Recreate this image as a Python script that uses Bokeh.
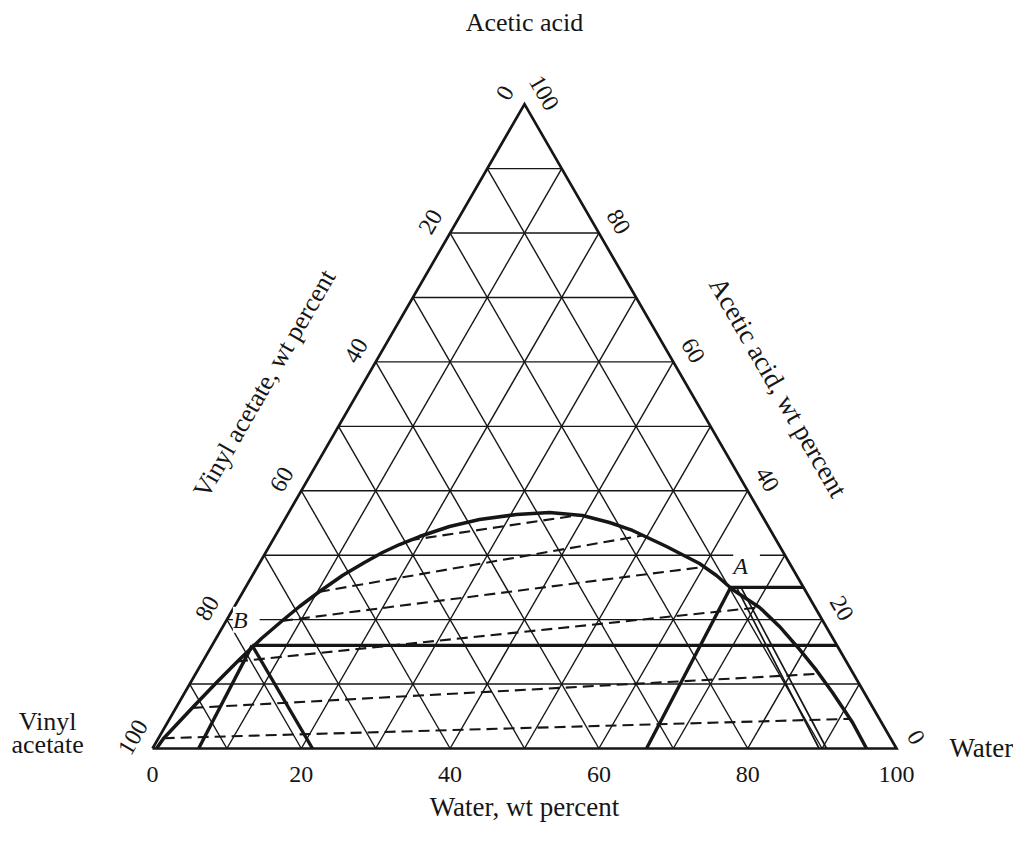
import numpy as np
from bokeh.plotting import figure
from bokeh.models import Range1d, Label
from bokeh.embed import file_html
from bokeh.resources import INLINE
from bokeh.core.properties import value

# ---------------- data (weight percent: water, acetic acid) ----------------
tick_values = [0, 20, 40, 60, 80, 100]

binodal_water = [0.54, 0.70, 1.53, 2.31, 3.54, 4.78, 6.11, 7.54, 8.74, 10.27, 12.11,
                 14.06, 15.70, 17.37, 19.44, 22.69, 26.18, 30.76, 35.04, 39.72, 43.88,
                 47.60, 53.41, 59.16, 62.38, 65.62, 70.65, 74.80, 79.28, 83.20, 87.05,
                 92.07, 95.97]
binodal_acid = [0.0, 1.55, 4.19, 6.67, 10.40, 13.81, 17.07, 19.87, 22.04, 24.37, 26.85,
                28.87, 30.42, 31.66, 32.90, 34.46, 35.54, 36.32, 36.63, 36.16, 35.08,
                33.84, 31.35, 28.71, 26.85, 24.68, 21.89, 18.94, 15.37, 12.11, 8.69,
                4.04, 0.0]

tie_water_left = [18.3, 10.2, 7.5, 4.6, 2.2, 0.7]
tie_acid_left = [32.3, 24.3, 19.8, 13.5, 6.3, 1.6]
tie_water_right = [39.1, 49.5, 60.1, 70.6, 83.9, 91.4]
tie_acid_right = [36.2, 33.1, 28.2, 21.9, 11.6, 4.6]

# thick construction lines (start -> end)
thick_water_start = [65.2, 5.4, 5.4, 5.4, 65.2]
thick_acid_start = [25.0, 16.0, 16.0, 16.0, 25.0]
thick_water_end = [75.0, 84.0, 6.2, 21.5, 66.4]
thick_acid_end = [25.0, 16.0, 0.0, 0.0, 0.0]

# thin double line
double_water_start = [66.0, 66.6]
double_acid_start = [25.0, 25.0]
double_water_end = [89.6, 90.6]
double_acid_end = [0.0, 0.0]

point_A = (65.7, 28.3)
point_B = (2.6, 20.0)

# ---------------- helpers ----------------
S3 = np.sqrt(3) / 2


def cart(w, a):
    w = np.asarray(w, float)
    a = np.asarray(a, float)
    return w + a / 2, a * S3


W_PX, H_PX = 1013, 826
SC = 7.44
ORG = 1.0
x0 = -(153 - ORG) / SC
x1 = x0 + W_PX / SC
y1 = (749 - ORG) / SC
y0 = y1 - H_PX / SC

p = figure(width=W_PX, height=H_PX, x_range=Range1d(x0, x1), y_range=Range1d(y0, y1),
           output_backend="svg", toolbar_location=None, min_border=0)
p.axis.visible = False
p.grid.visible = False
p.outline_line_color = None
p.background_fill_color = "white"

INK = "#161616"
FONT = value("Liberation Serif")

# grid lines every 10 %
gx, gy = [], []
for k in range(10, 100, 10):
    xs, ys = cart([0, 100 - k], [k, k]); gx.append(list(xs)); gy.append(list(ys))
    xs, ys = cart([k, k], [0, 100 - k]); gx.append(list(xs)); gy.append(list(ys))
    xs, ys = cart([100 - k, 0], [0, 100 - k]); gx.append(list(xs)); gy.append(list(ys))
p.multi_line(gx, gy, line_color=INK, line_width=1.4)

# tie lines
tx, ty = [], []
for wl, al, wr, ar in zip(tie_water_left, tie_acid_left, tie_water_right, tie_acid_right):
    xs, ys = cart([wl, wr], [al, ar]); tx.append(list(xs)); ty.append(list(ys))
p.multi_line(tx, ty, line_color=INK, line_width=2.1, line_dash="11 6")

# double thin line
dx, dy = [], []
for ws, as_, we, ae in zip(double_water_start, double_acid_start, double_water_end, double_acid_end):
    xs, ys = cart([ws, we], [as_, ae]); dx.append(list(xs)); dy.append(list(ys))
p.multi_line(dx, dy, line_color=INK, line_width=1.7)

# thick construction lines
kx, ky = [], []
for ws, as_, we, ae in zip(thick_water_start, thick_acid_start, thick_water_end, thick_acid_end):
    xs, ys = cart([ws, we], [as_, ae]); kx.append(list(xs)); ky.append(list(ys))
p.multi_line(kx, ky, line_color=INK, line_width=3.4)

# binodal curve
bx, by = cart(binodal_water, binodal_acid)
p.line(bx, by, line_color=INK, line_width=3.5, line_join="round")

# triangle outline
ox, oy = cart([0, 100, 0, 0], [0, 0, 100, 0])
p.line(ox, oy, line_color=INK, line_width=2.7, line_join="miter")

# ---------------- tick labels ----------------
OFF = 3.0
bx_t, by_t = cart(tick_values, [0] * len(tick_values))
p.text(bx_t, by_t - 3.5, text=[str(v) for v in tick_values], text_font=FONT,
       text_font_size="24px", text_align="center", text_baseline="middle", text_color=INK)
lx, ly = cart([0] * 6, [100 - v for v in tick_values])
p.text(lx - OFF * S3, ly + OFF * 0.5, text=[str(v) for v in tick_values], angle=np.pi / 3,
       text_font=FONT, text_font_size="24px", text_align="center", text_baseline="middle",
       text_color=INK)
rx, ry = cart([100 - v for v in tick_values], tick_values)
p.text(rx + OFF * S3, ry + OFF * 0.5, text=[str(v) for v in tick_values], angle=-np.pi / 3,
       text_font=FONT, text_font_size="24px", text_align="center", text_baseline="middle",
       text_color=INK)

# ---------------- titles ----------------
apx, apy = cart([0], [100])
p.text(apx, apy + 11.0, text=["Acetic acid"], text_font=FONT, text_font_size="26px",
       text_align="center", text_baseline="middle", text_color=INK)
p.text([50], [-7.9], text=["Water, wt percent"], text_font=FONT, text_font_size="27px",
       text_align="center", text_baseline="middle", text_color=INK)
p.text([-14.1, -14.1], [3.6, 0.5], text=["Vinyl", "acetate"], text_font=FONT,
       text_font_size="26px", text_align="center", text_baseline="middle", text_color=INK)
p.text([111.4], [0.1], text=["Water"], text_font=FONT, text_font_size="27px",
       text_align="center", text_baseline="middle", text_color=INK)

mlx, mly = cart([0], [50])
p.text(mlx - 11.5 * S3, mly + 11.5 * 0.5, text=["Vinyl acetate, wt percent"], angle=np.pi / 3,
       text_font=FONT, text_font_size="26px", text_align="center", text_baseline="middle",
       text_color=INK)
mrx, mry = cart([50], [50])
p.text(mrx + 10.5 * S3, mry + 10.5 * 0.5, text=["Acetic acid, wt percent"], angle=-np.pi / 3,
       text_font=FONT, text_font_size="27px", text_align="center", text_baseline="middle",
       text_color=INK)

for (w, a), name in ((point_A, " A "), (point_B, " B ")):
    cx, cy = cart([w], [a])
    p.add_layout(Label(x=float(cx[0]), y=float(cy[0]), text=name, text_font="Liberation Serif",
                       text_font_style="italic", text_font_size="24px", text_align="center",
                       text_baseline="middle", text_color=INK, background_fill_color="white"))

open("out.html", "w").write(file_html(p, INLINE))
